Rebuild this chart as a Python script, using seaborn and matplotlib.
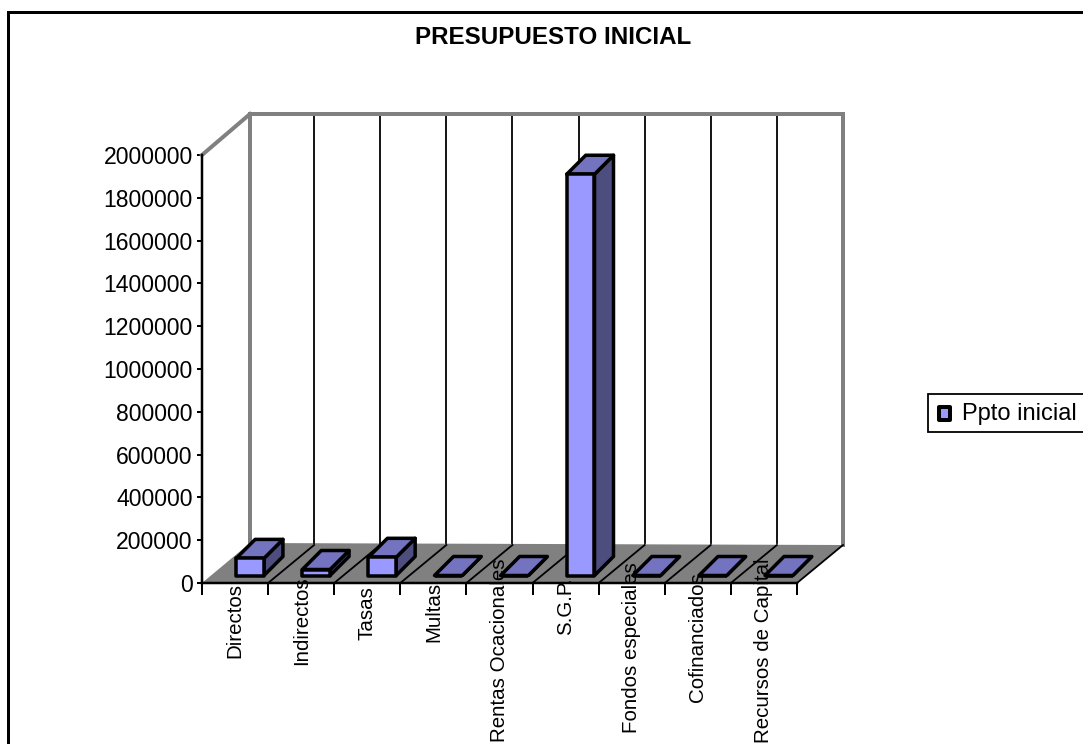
"""
Presupuesto inicial - bar chart with the old spreadsheet 3D look.
Front faces come from seaborn, depth faces are derived from the bars.
"""

import numpy as np
import matplotlib
matplotlib.use("Agg")
import matplotlib.pyplot as plt
import seaborn as sns
from matplotlib.patches import Polygon, Rectangle
from matplotlib.transforms import Affine2D, IdentityTransform, blended_transform_factory

# ---------- DATA ----------
categories = ["Directos", "Indirectos", "Tasas", "Multas", "Rentas Ocacionales",
              "S.G.P.", "Fondos especiales", "Cofinanciados", "Recursos de Capital"]
ppto_inicial = [80000, 28000, 85000, 0, 0, 1875000, 0, 0, 0]
y_ticks = [0, 200000, 400000, 600000, 800000, 1000000, 1200000, 1400000,
           1600000, 1800000, 2000000]

# ---------- LAYOUT (pixels) ----------
W, H = 1083, 744
AX_L, AX_R, AX_TOP, AX_BOT = 202, 797, 155, 583
DEPTH_X, DEPTH_Y = 47, 40         # floor / wall depth
BAR_DX, BAR_DY = 15, 7.5          # bars stand a bit inside the floor
BAR_DEPTH = 19
LABEL_BOTTOM = [658, 665, 640, 642, 742, 635, 733, 702, 743]

FRONT, TOP, SIDE = "#9999FF", "#7373BF", "#4D4D80"
GREY = "#808080"
PX = 0.72  # points per pixel at dpi 100

sns.set_theme(style="white")
plt.rcParams["font.family"] = ["Liberation Sans", "DejaVu Sans"]

fig = plt.figure(figsize=(W / 100, H / 100), dpi=100)
ax = fig.add_axes([AX_L / W, 1 - AX_BOT / H, (AX_R - AX_L) / W, (AX_BOT - AX_TOP) / H])

# ---------- BARS ----------
sns.barplot(x=categories, y=ppto_inicial, color=FRONT, saturation=1, width=0.42,
            edgecolor="black", linewidth=3.5 * PX, label="Ppto inicial", legend=False, ax=ax)
bars = list(ax.patches)
ax.set_xlim(-0.5, len(categories) - 0.5)
ax.set_ylim(0, 2000000)
ax.set_xlabel("")
ax.set_ylabel("")


def px(x, y):
    return (x, H - y)


def add_poly(points, **kw):
    ax.add_patch(Polygon(points, closed=True, transform=IdentityTransform(), clip_on=False, **kw))


def add_line(p0, p1, color, width, z):
    ax.plot([p0[0], p1[0]], [p0[1], p1[1]], color=color, lw=width * PX, zorder=z,
            transform=IdentityTransform(), clip_on=False, solid_capstyle="projecting")


# ---------- FLOOR AND WALLS ----------
add_poly([px(AX_L, AX_BOT), px(AX_R, AX_BOT), px(AX_R + DEPTH_X - 1, AX_BOT - 38), px(AX_L + DEPTH_X + 1, AX_BOT - DEPTH_Y)],
         facecolor=GREY, edgecolor="none", zorder=1)

boundaries = np.arange(len(categories) + 1) - 0.5
for b in boundaries[1:]:
    x0 = ax.transData.transform((b, 0))[0]
    add_line((x0, H - AX_BOT), (x0 + DEPTH_X - 1, H - AX_BOT + 38), "black", 1.8, 1.5)
    if b < boundaries[-1]:
        add_line((x0 + DEPTH_X - 1, H - AX_BOT + 40), (x0 + DEPTH_X - 1, H - 114), "black", 1.8, 1.2)

add_line(px(250, 114), px(250, 543), GREY, 4, 1.4)
add_line(px(843, 114), px(843, 545), GREY, 4, 1.4)
add_line(px(250, 114), px(843, 114), GREY, 4, 1.4)
add_line(px(AX_L, AX_TOP), px(250, 114), GREY, 4, 1.4)

# ---------- 3D FACES, taken from each bar ----------
shift = Affine2D().translate(BAR_DX, BAR_DY)
for bar in bars:
    bar.set_transform(ax.transData + shift)
    bar.set_zorder(4)
    bar.set_joinstyle("round")
    (x0, y0) = ax.transData.transform((bar.get_x(), 0)) + (BAR_DX, BAR_DY)
    (x1, y1) = ax.transData.transform((bar.get_x() + bar.get_width(), bar.get_height())) + (BAR_DX, BAR_DY)
    d = BAR_DEPTH
    add_poly([(x0, y1), (x1, y1), (x1 + d, y1 + d), (x0 + d, y1 + d)],
             facecolor=TOP, edgecolor="black", lw=3.5 * PX, joinstyle="round", zorder=3.6)
    add_poly([(x1, y0), (x1 + d, y0 + d), (x1 + d, y1 + d), (x1, y1)],
             facecolor=SIDE, edgecolor="black", lw=3.5 * PX, joinstyle="round", zorder=3.5)

# ---------- AXES AND TEXT ----------
sns.despine(ax=ax, top=True, right=True)
for side in ["left", "bottom"]:
    ax.spines[side].set_linewidth(2.5 * PX)
    ax.spines[side].set_color("black")
    ax.spines[side].set_zorder(2)

ax.set_yticks(y_ticks)
ax.set_yticklabels([str(v) for v in y_ticks], fontsize=16.6)
ax.tick_params(axis="y", length=5 * PX, width=2 * PX, color="black", left=True, pad=3, labelcolor="black")
ax.set_xticks(boundaries)
ax.set_xticklabels([])
ax.tick_params(axis="x", length=12 * PX, width=2 * PX, color="black", bottom=True)

label_tf = blended_transform_factory(ax.transData, IdentityTransform())
for i, name in enumerate(categories):
    ax.text(i, H - LABEL_BOTTOM[i], name, rotation=90, ha="center", va="bottom",
            fontsize=14.8, color="black", transform=label_tf, zorder=5, clip_on=False)

fig.text(553 / W, 1 - 37 / H, "PRESUPUESTO INICIAL", fontsize=17.4, fontweight="bold",
         ha="center", va="center", color="black")

# outer chart border, runs off the picture on the right and below
fig.add_artist(Rectangle((8 / W, -0.05), 1.2, 1 - 12 / H + 0.05, transform=fig.transFigure,
                         facecolor="none", edgecolor="black", lw=3 * PX))

# ---------- LEGEND ----------
fig.add_artist(Rectangle((928 / W, 1 - 432 / H), 0.2, 38 / H, transform=fig.transFigure,
                         facecolor="white", edgecolor="black", lw=1.8 * PX))
fig.add_artist(Rectangle((939 / W, 1 - 420 / H), 11 / W, 13 / H, transform=fig.transFigure,
                         facecolor=FRONT, edgecolor="black", lw=4 * PX, joinstyle="round"))
fig.text(962 / W, 1 - 414 / H, "Ppto inicial", fontsize=17, ha="left", va="center", color="black")

fig.savefig("out.png", dpi=100)
plt.close(fig)
